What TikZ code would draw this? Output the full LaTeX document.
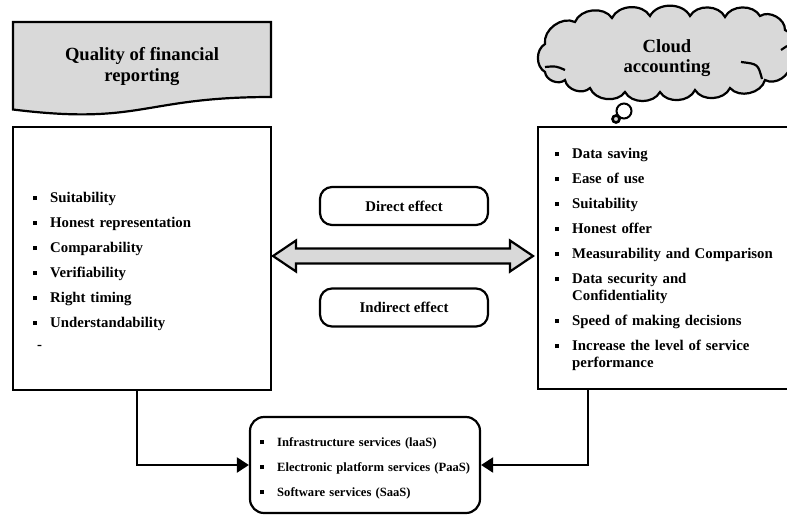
\documentclass[tikz,border=0pt]{standalone}
\usepackage{fontspec}
\setmainfont{Liberation Serif}
\usetikzlibrary{arrows.meta}
\definecolor{boxgray}{RGB}{217,217,217}
% small square bullet hung left of the item text
\newcommand{\sq}{\leavevmode\llap{\rule[1.8pt]{4pt}{4pt}\hspace{13pt}}}
\tikzset{
  box/.style={draw, line width=2.2pt, inner sep=0pt},
  item/.style={anchor=base west, inner sep=0pt, text width=235pt, align=left,
    font=\fontsize{14.8}{17}\selectfont\bfseries},
  small item/.style={item, font=\fontsize{12.6}{15}\selectfont\bfseries},
  head/.style={align=center, font=\fontsize{18.6}{20.5}\selectfont\bfseries},
  effect/.style={box, rounded corners=12pt, minimum width=168pt, minimum height=38pt,
    font=\fontsize{14.8}{17}\selectfont\bfseries},
  puff/.style={bend left=62},
  flow/.style={line width=2.2pt, -{Triangle[length=12pt,width=15pt]}}
}
\begin{document}
\begin{tikzpicture}[x=1pt,y=-1pt]
\useasboundingbox (0,0) rectangle (787,515);
% left header (document shape)
\draw[box, fill=boxgray] (13,22) -- (271,22) -- (271,97)
  .. controls (142,97) and (142,125.5) .. (13,109.5) -- cycle;
\node[head] (fin-head) at (142,66.5) {Quality of financial\\reporting};
% right header (cloud with thought bubbles)
\draw[line width=2.2pt, fill=boxgray] (545,72) to[bend left=60] (545,44)
  to[puff] (575,22) to[puff] (612,18) to[puff] (650,16) to[puff] (690,16)
  to[puff] (725,17) to[puff] (760,16) to[puff] (785,30) to[puff] (790,64)
  to[puff] (765,80) to[puff] (730,88) to[puff] (695,90) to[puff] (660,92)
  to[puff] (625,92) to[puff] (590,88) to[puff] (565,80) to[puff] cycle;
\draw[line width=2.2pt] (545,67) .. controls (556,66) .. (565,70);
\draw[line width=2.2pt] (741,62) .. controls (758,64) .. (762,79);
\draw[line width=2.2pt] (781,50) -- (787,46);
\node[head] (acc-head) at (667,58) {Cloud\\accounting};
\draw[line width=2pt, fill=white] (624,111) circle (7.5pt);
\draw[line width=2.6pt, fill=boxgray] (616,119) circle (3.5pt);
% main boxes
\node[box, minimum width=258pt, minimum height=263pt] (fin) at (142,258.5) {};
\node[box, minimum width=272pt, minimum height=262pt] (acc) at (674,258) {};
\foreach \t [count=\i from 0] in {Suitability, Honest representation, Comparability,
    Verifiability, Right timing, Understandability}
  \node[item] (fin-\i) at (50,202+25*\i) {\sq\t};
\node[item] (fin-dash) at (37,349) {-};
\foreach \y/\t [count=\i] in {158/Data saving, 183/Ease of use, 208/Suitability,
    233/Honest offer, 258/Measurability and Comparison,
    283/{Data security and\\Confidentiality}, 325/Speed of making decisions,
    350/{Increase the level of service\\performance}}
  \node[item] (acc-\i) at (572,\y) {\sq\t};
% effects between the two
\node[effect] (direct) at (404,206) {Direct effect};
\node[effect] (indirect) at (404,307.5) {Indirect effect};
\coordinate (tipL) at (273,256);
\coordinate (tipR) at (533,256);
\draw[line width=2.2pt, fill=boxgray, line join=miter] (tipL) -- ++(23,-15.5) -- ++(0,8)
  -- ([shift={(-23,-7.5)}]tipR) -- ++(0,-8) -- (tipR) -- ++(-23,15.5) -- ++(0,-8)
  -- ([shift={(23,7.5)}]tipL) -- ++(0,8) -- cycle;
% cloud services
\node[box, rounded corners=14pt, minimum width=230pt, minimum height=96pt] (svc) at (365,465) {};
\foreach \t [count=\i from 0] in {Infrastructure services (laaS),
    Electronic platform services (PaaS), Software services (SaaS)}
  \node[small item] (svc-\i) at (277,446+25*\i) {\sq\t};
\draw[flow] ([xshift=-5pt]fin.south) |- (svc.west);
\draw[flow] ([xshift=51pt]acc.south west) |- (svc.east);
\end{tikzpicture}
\end{document}
